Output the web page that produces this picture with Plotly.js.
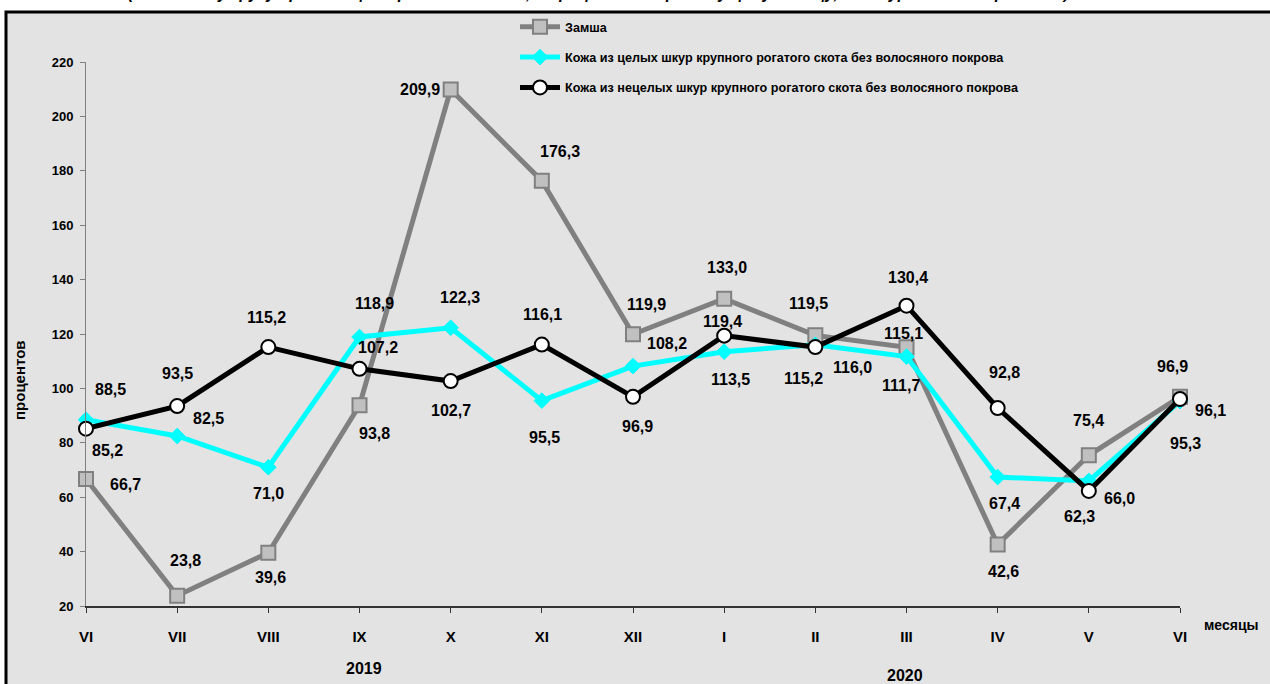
<!DOCTYPE html>
<html>
<head>
<meta charset="utf-8">
<script src="https://cdn.plot.ly/plotly-3.0.1.min.js"></script>
<style>html,body{margin:0;padding:0;background:#fff;}#chart{width:1270px;height:684px;}</style>
</head>
<body>
<div id="chart"></div>
<script>
// ---- data ----
const months = ['VI','VII','VIII','IX','X','XI','XII','I','II','III','IV','V','VI'];
const suede = [66.7, 23.8, 39.6, 93.8, 209.9, 176.3, 119.9, 133.0, 119.5, 115.1, 42.6, 75.4, 96.9];
const wholeHides = [88.5, 82.5, 71.0, 118.9, 122.3, 95.5, 108.2, 113.5, 116.0, 111.7, 67.4, 66.0, 95.3];
const nonWholeHides = [85.2, 93.5, 115.2, 107.2, 102.7, 116.1, 96.9, 119.4, 115.2, 130.4, 92.8, 62.3, 96.1];
const seriesNames = ['Замша',
  'Кожа из целых шкур крупного рогатого скота без волосяного покрова',
  'Кожа из нецелых шкур крупного рогатого скота без волосяного покрова'];
const years = ['2019', '2020'];

// ---- label offsets (px) ----
const offSuede = [[39,6],[8,-35],[2,25],[15,28],[-31,0],[18,-29],[13,-30],[3,-31],[-7,-32],[-3,-14],[6,27],[0,-35],[-8,-30]];
const offWhole = [[24,-30],[31,-18],[0,26],[15,-33],[9,-30],[3,37],[34,-23],[6,28],[37,23],[-6,29],[7,26],[31,18],[5,42]];
const offNon = [[21,22],[0,-33],[-2,-30],[18,-21],[0,29],[1,-30],[4,30],[-2,-14],[-12,31],[1,-28],[7,-35],[-9,26],[30,11]];

const xs = months.map((m, i) => i);
const fmt = v => v.toFixed(1).replace('.', ',');
const FONT = 'Liberation Sans, Arial, sans-serif';
const bold = (size) => ({family: FONT, size: size, color: '#000', weight: 'bold'});

const traces = [
  {x: xs, y: suede, name: seriesNames[0], type: 'scatter', mode: 'lines+markers', cliponaxis: false,
   legendgroup: 'a',
   line: {color: '#808080', width: 5},
   marker: {symbol: 'square', size: 14, color: '#c0c0c0', line: {color: '#808080', width: 2}}},
  {x: xs, y: wholeHides, name: seriesNames[1], type: 'scatter', mode: 'lines+markers', cliponaxis: false,
   legendgroup: 'b',
   line: {color: '#00ffff', width: 5},
   marker: {symbol: 'diamond', size: 12, color: '#00ffff', line: {color: '#00ffff', width: 1}}},
  {x: xs, y: nonWholeHides, name: seriesNames[2], type: 'scatter', mode: 'lines+markers', cliponaxis: false,
   legendgroup: 'c',
   line: {color: '#000000', width: 5},
   marker: {symbol: 'circle', size: 14, color: '#ffffff', line: {color: '#000000', width: 2}}}
];

const annotations = [];
function addLabels(vals, offs) {
  vals.forEach((v, i) => {
    annotations.push({x: xs[i], y: v, xref: 'x', yref: 'y', text: fmt(v), showarrow: true,
      arrowcolor: 'rgba(0,0,0,0)', ax: offs[i][0], ay: offs[i][1],
      font: bold(16)});
  });
}
addLabels(suede, offSuede);
addLabels(wholeHides, offWhole);
addLabels(nonWholeHides, offNon);

// helpers: pixel -> paper
const L = 86, R = 1180, T = 62, B = 606;
const px = p => (p - L) / (R - L);
const py = p => (B - p) / (B - T);
const note = (x, y, text, size, extra) => Object.assign({xref: 'paper', yref: 'paper', x: px(x), y: py(y),
  xanchor: 'center', yanchor: 'middle', text: text, showarrow: false, font: bold(size)}, extra || {});

annotations.push(note(1231, 625, 'месяцы', 14));
annotations.push(note(364, 668, years[0], 16));
annotations.push(note(905, 675, years[1], 16));
annotations.push(note(20, 380, 'процентов', 15, {textangle: -90}));
annotations.push(note(598, 3.5, '<i>(по полному кругу организаций-производителей; в процентах к предыдущему месяцу, в натуральном выражении)</i>', 16, {yanchor: 'bottom'}));

const layout = {
  width: 1270, height: 684,
  margin: {l: L, r: 1270 - R, t: T, b: 684 - B},
  paper_bgcolor: '#ffffff',
  plot_bgcolor: 'rgba(0,0,0,0)',
  font: bold(13),
  showlegend: true,
  legend: {x: px(515), y: py(12), xanchor: 'left', yanchor: 'top', bgcolor: 'rgba(0,0,0,0)',
    tracegroupgap: 11, itemwidth: 40, font: bold(12.6)},
  xaxis: {range: [0, 12], tickvals: xs, ticktext: months, showgrid: false, zeroline: false,
    showline: true, linecolor: '#333333', linewidth: 1.5, ticks: 'outside', ticklen: 5, tickcolor: '#333333',
    ticklabelstandoff: 11, tickfont: bold(15), fixedrange: true},
  yaxis: {range: [20, 220], dtick: 20, showgrid: false, zeroline: false,
    showline: true, linecolor: '#808080', linewidth: 1, ticks: 'outside', ticklen: 5, tickcolor: '#808080',
    ticklabelstandoff: 4, tickfont: bold(13)},
  shapes: [{type: 'rect', xref: 'paper', yref: 'paper', layer: 'below',
    x0: px(6), x1: px(1280), y0: py(700), y1: py(12),
    fillcolor: '#e3e3e3', line: {color: '#000', width: 3}}],
  annotations: annotations
};

Plotly.newPlot('chart', traces, layout, {displayModeBar: false, staticPlot: true});
</script>
</body>
</html>
